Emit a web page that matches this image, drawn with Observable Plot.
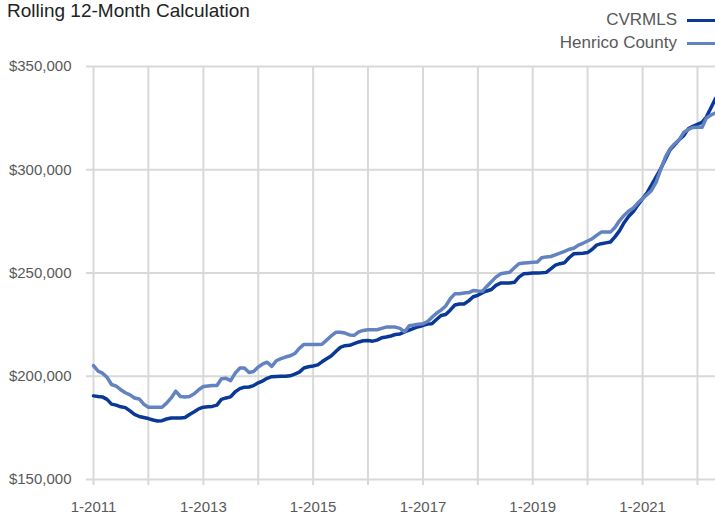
<!DOCTYPE html>
<html>
<head>
<meta charset="utf-8">
<script src="https://cdn.jsdelivr.net/npm/d3@7"></script>
<script src="https://cdn.jsdelivr.net/npm/@observablehq/plot@0.6"></script>
<style>
  html, body { margin: 0; padding: 0; background: #fff; }
  #wrap { position: relative; width: 715px; height: 515px; overflow: hidden; font-family: "Liberation Sans", Arial, sans-serif; }
  #title { position: absolute; left: 7px; top: 1px; font-size: 19px; line-height: 19px; color: #222; white-space: nowrap; }
  .leg { position: absolute; right: 0; height: 20px; display: flex; align-items: center; font-size: 17px; color: #595959; white-space: nowrap; }
  .leg .sw { width: 28px; height: 3px; margin-left: 10px; }
  #chart { position: absolute; left: 0; top: 0; }
</style>
</head>
<body>
<div id="wrap">
  <div id="chart"></div>
  <div id="title">Rolling 12-Month Calculation</div>
  <div class="leg" style="top:10px"><span>CVRMLS</span><span class="sw" style="background:#0a3896"></span></div>
  <div class="leg" style="top:33px"><span>Henrico County</span><span class="sw" style="background:#6283c0"></span></div>
</div>
<script>
// Monthly series, January 2011 onward (values in thousands of dollars)
const startYear = 2011;
const seriesNames = ["CVRMLS", "Henrico County"];
const seriesColors = ["#0a3896", "#6283c0"];

const cvrmls = [
  190.5, 190.2, 190.0, 188.8, 186.5, 186.0, 185.2, 184.8, 183.2, 181.5, 180.5, 180.0,
  179.5, 178.8, 178.3, 178.5, 179.3, 179.8, 179.8, 179.8, 180.0, 181.5, 182.8, 184.2,
  185.0, 185.2, 185.4, 186.0, 188.8, 189.5, 190.0, 192.5, 194.0, 194.7, 194.8, 195.5,
  196.8, 197.8, 199.0, 199.8, 199.9, 200.0, 200.0, 200.2, 201.0, 202.0, 204.0, 204.6,
  205.0, 205.5, 207.0, 208.5, 209.8, 212.0, 214.0, 214.8, 215.0, 215.8, 216.6, 217.2,
  217.3, 217.0, 217.5, 218.6, 219.0, 219.5, 220.2, 220.5, 221.5, 222.3, 223.2, 224.0,
  224.6, 225.3, 225.4, 227.5, 229.4, 229.9, 232.0, 234.5, 235.0, 235.0, 236.5, 238.5,
  239.2, 240.5, 241.3, 242.0, 244.0, 245.1, 245.1, 245.2, 245.5, 248.0, 249.6, 249.8,
  250.0, 250.0, 250.1, 250.3, 252.0, 253.8, 254.5, 255.0, 257.5, 259.3, 259.5, 259.6,
  259.9, 261.5, 263.5, 264.2, 264.6, 265.0, 267.5, 270.5, 274.5, 277.5, 279.8, 283.0,
  286.0, 289.0, 292.5, 296.5, 300.5, 305.0, 309.5, 312.0, 314.5, 316.5, 319.8, 321.0,
  322.0, 323.0, 325.5, 330.0, 334.5
];

const henrico = [
  205.2, 202.5, 201.5, 199.5, 196.0, 195.2, 193.5, 192.0, 191.0, 189.5, 189.0, 186.5,
  185.0, 185.0, 185.0, 185.0, 187.0, 189.5, 192.8, 190.2, 190.0, 190.2, 191.5, 193.5,
  195.0, 195.3, 195.5, 195.5, 198.8, 199.0, 197.9, 201.5, 204.0, 204.0, 201.8, 202.3,
  204.5, 206.0, 206.8, 204.8, 207.5, 208.5, 209.3, 209.9, 211.0, 213.5, 215.4, 215.4,
  215.4, 215.4, 215.5, 217.5, 219.5, 221.3, 221.3, 220.9, 220.0, 219.8, 221.5, 222.2,
  222.5, 222.5, 222.5, 223.2, 223.8, 223.8, 223.8, 223.2, 221.5, 224.5, 224.8, 225.2,
  225.4, 226.5, 228.5, 230.5, 232.0, 234.0, 237.5, 239.9, 240.0, 240.3, 240.5, 241.5,
  241.3, 241.2, 243.5, 245.8, 248.0, 249.6, 250.0, 250.4, 252.5, 254.5, 254.8, 255.0,
  255.2, 255.3, 257.4, 257.8, 258.0, 258.8, 259.6, 260.5, 261.5, 262.0, 263.5, 264.4,
  265.5, 266.6, 268.2, 269.8, 269.8, 269.8, 272.0, 275.4, 278.0, 280.0, 281.5, 284.0,
  286.0, 288.0, 290.0, 294.0, 300.0, 306.0, 310.0, 312.5, 314.5, 318.0, 319.5, 320.5,
  320.6, 320.6, 325.0, 326.5, 327.5
];

const yTicks = [150000, 200000, 250000, 300000, 350000];
const gridYears = [2011, 2012, 2013, 2014, 2015, 2016, 2017, 2018, 2019, 2020, 2021, 2022];
const labelYears = [2011, 2013, 2015, 2017, 2019, 2021];

const monthDate = (i) => new Date(Date.UTC(startYear, i, 1));
const rows = [];
[cvrmls, henrico].forEach((arr, s) => {
  arr.forEach((v, i) => rows.push({series: seriesNames[s], date: monthDate(i), value: v * 1000}));
});
const yearDates = gridYears.map(y => new Date(Date.UTC(y, 0, 1)));
const lastDate = monthDate(cvrmls.length - 1);

const chart = Plot.plot({
  width: 715,
  height: 515,
  marginTop: 66,
  marginBottom: 36,
  marginLeft: 93,
  marginRight: 0,
  style: {fontFamily: "'Liberation Sans', Arial, sans-serif", fontSize: "15px", color: "#595959", background: "white"},
  x: {type: "utc", domain: [monthDate(0), lastDate]},
  y: {domain: [150000, 350000]},
  color: {domain: seriesNames, range: seriesColors},
  marks: [
    Plot.gridY(yTicks, {stroke: "#d9d9d9", strokeOpacity: 1, strokeWidth: 2}),
    Plot.gridX(yearDates, {stroke: "#d9d9d9", strokeOpacity: 1, strokeWidth: 2}),
    Plot.axisY(yTicks, {
      tickSize: 7, tickPadding: 15, stroke: "#d9d9d9", strokeWidth: 2, strokeOpacity: 1,
      fill: "#595959", fontSize: 15,
      tickFormat: d => "$" + d3.format(",")(d), label: null
    }),
    Plot.axisX(yearDates, {
      tickSize: 6, tickPadding: 16, stroke: "#d9d9d9", strokeWidth: 2, strokeOpacity: 1,
      fill: "#595959", fontSize: 15,
      tickFormat: d => labelYears.includes(d.getUTCFullYear()) ? "1-" + d.getUTCFullYear() : "",
      label: null
    }),
    Plot.lineY(rows.filter(d => d.series === seriesNames[0]), {
      x: "date", y: "value", stroke: seriesColors[0], strokeWidth: 3.5, strokeLinejoin: "round"
    }),
    Plot.lineY(rows.filter(d => d.series === seriesNames[1]), {
      x: "date", y: "value", stroke: seriesColors[1], strokeWidth: 3.5, strokeLinejoin: "round"
    })
  ]
});
document.getElementById("chart").appendChild(chart);
</script>
</body>
</html>
